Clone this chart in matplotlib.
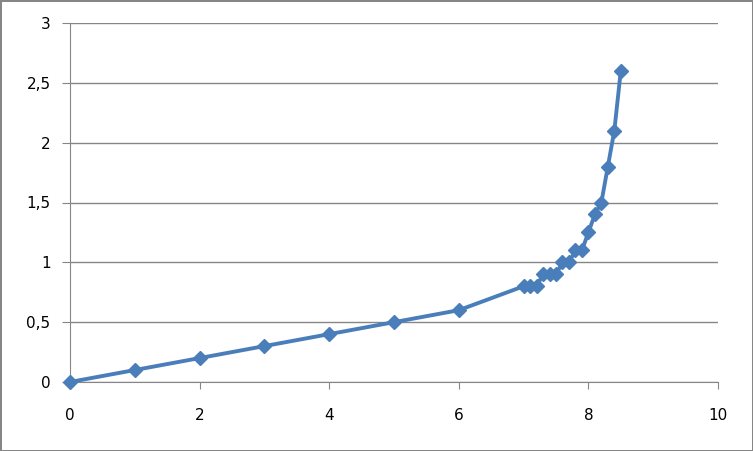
import matplotlib.pyplot as plt
from matplotlib.ticker import FuncFormatter, MultipleLocator

# data
x_vals = [0, 1, 2, 3, 4, 5, 6, 7, 7.1, 7.2, 7.3, 7.4, 7.5, 7.6, 7.7, 7.8, 7.9,
          8.0, 8.1, 8.2, 8.3, 8.4, 8.5]
y_vals = [0, 0.1, 0.2, 0.3, 0.4, 0.5, 0.6, 0.8, 0.8, 0.8, 0.9, 0.9, 0.9, 1.0, 1.0,
          1.1, 1.1, 1.25, 1.4, 1.5, 1.8, 2.1, 2.6]

line_color = '#4A7EBB'
grid_color = '#868686'

fig = plt.figure(figsize=(7.53, 4.51), dpi=100)
fig.patch.set_edgecolor(grid_color)
fig.patch.set_linewidth(2)

# plot area in pixels: left 70, right 718, top 23, bottom 382
ax = fig.add_axes([70 / 753, 1 - 382 / 451, 648 / 753, 359 / 451])

ax.plot(x_vals, y_vals, color=line_color, linewidth=2.8, marker='D',
        markersize=7.5, markerfacecolor=line_color, markeredgecolor=line_color,
        clip_on=False, zorder=3)

ax.set_xlim(0, 10)
ax.set_ylim(0, 3)
ax.xaxis.set_major_locator(MultipleLocator(2))
ax.yaxis.set_major_locator(MultipleLocator(0.5))

fmt = FuncFormatter(lambda v, pos: ('%g' % v).replace('.', ','))
ax.xaxis.set_major_formatter(fmt)
ax.yaxis.set_major_formatter(fmt)

ax.grid(axis='y', color=grid_color, linewidth=1)
ax.set_axisbelow(True)
for side in ['top', 'right']:
    ax.spines[side].set_visible(False)
ax.spines['left'].set_color(grid_color)
ax.spines['bottom'].set_color(grid_color)

ax.tick_params(axis='y', direction='out', length=6, color=grid_color,
               labelsize=11, pad=8)
ax.tick_params(axis='x', direction='out', length=5, color=grid_color,
               labelsize=11, pad=14)

for lbl in ax.get_xticklabels() + ax.get_yticklabels():
    lbl.set_fontfamily('DejaVu Sans')

fig.savefig('out.png', dpi=100, edgecolor=fig.get_edgecolor())
